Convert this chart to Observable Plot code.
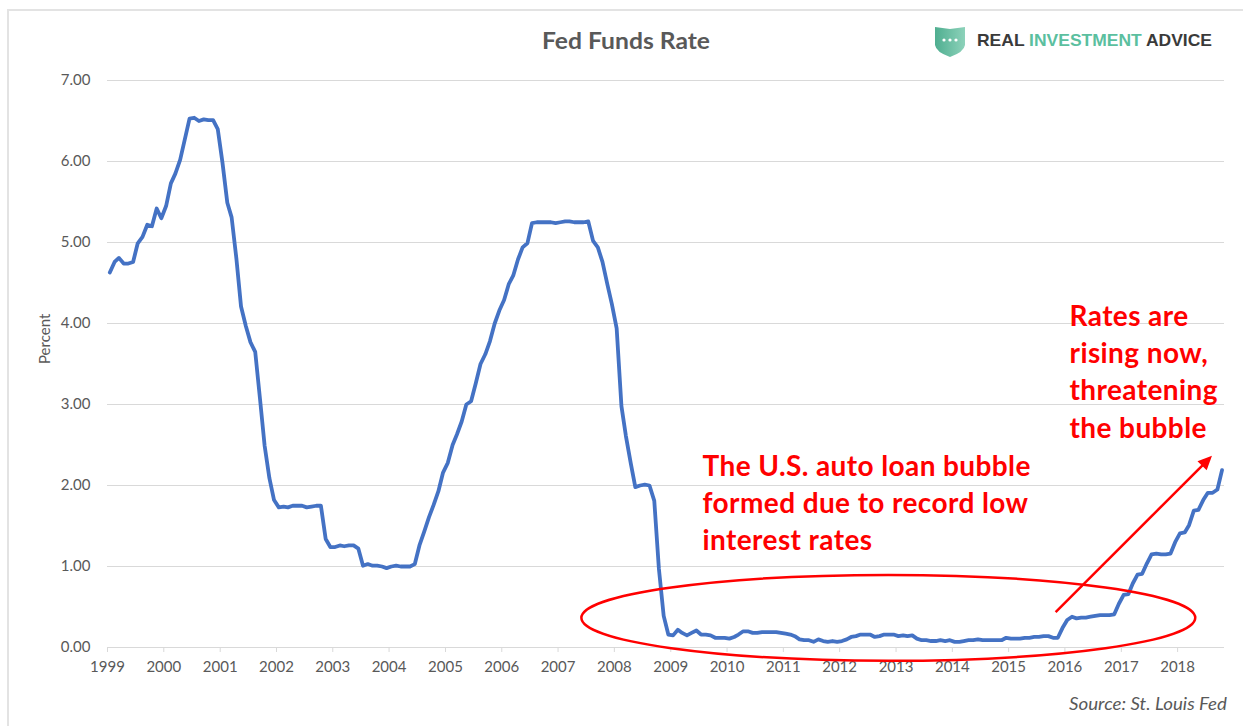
<!DOCTYPE html>
<html>
<head>
<meta charset="utf-8">
<script src="https://cdn.jsdelivr.net/npm/d3@7"></script>
<script src="https://cdn.jsdelivr.net/npm/@observablehq/plot@0.6"></script>
<style>
  html, body { margin: 0; padding: 0; background: #fff; }
  body { width: 1243px; height: 726px; overflow: hidden; position: relative; font-family: Lato, "Open Sans", sans-serif; }
  #frame { position: absolute; left: 7px; top: 9px; width: 1300px; height: 800px; border-left: 2px solid #e3e3e3; border-top: 2px solid #e3e3e3; box-sizing: border-box; }
  #chart { position: absolute; left: 0; top: 0; }
  #overlay { position: absolute; left: 0; top: 0; pointer-events: none; }
</style>
</head>
<body>
<div id="frame"></div>
<div id="chart"></div>
<svg id="overlay" width="1243" height="726"></svg>
<script>
// ---- Data: effective Fed Funds rate, monthly, Jan 1999 – Oct 2018 (percent) ----
const rates1999 = [4.63, 4.76, 4.81, 4.74, 4.74, 4.76, 4.99, 5.07, 5.22, 5.20, 5.42, 5.30];
const rates2000 = [5.45, 5.73, 5.85, 6.02, 6.27, 6.53, 6.54, 6.50, 6.52, 6.51, 6.51, 6.40];
const rates2001 = [5.98, 5.49, 5.31, 4.80, 4.21, 3.97, 3.77, 3.65, 3.07, 2.49, 2.09, 1.82];
const rates2002 = [1.73, 1.74, 1.73, 1.75, 1.75, 1.75, 1.73, 1.74, 1.75, 1.75, 1.34, 1.24];
const rates2003 = [1.24, 1.26, 1.25, 1.26, 1.26, 1.22, 1.01, 1.03, 1.01, 1.01, 1.00, 0.98];
const rates2004 = [1.00, 1.01, 1.00, 1.00, 1.00, 1.03, 1.26, 1.43, 1.61, 1.76, 1.93, 2.16];
const rates2005 = [2.28, 2.50, 2.63, 2.79, 3.00, 3.04, 3.26, 3.50, 3.62, 3.78, 4.00, 4.16];
const rates2006 = [4.29, 4.49, 4.59, 4.79, 4.94, 4.99, 5.24, 5.25, 5.25, 5.25, 5.25, 5.24];
const rates2007 = [5.25, 5.26, 5.26, 5.25, 5.25, 5.25, 5.26, 5.02, 4.94, 4.76, 4.49, 4.24];
const rates2008 = [3.94, 2.98, 2.61, 2.28, 1.98, 2.00, 2.01, 2.00, 1.81, 0.97, 0.39, 0.16];
const rates2009 = [0.15, 0.22, 0.18, 0.15, 0.18, 0.21, 0.16, 0.16, 0.15, 0.12, 0.12, 0.12];
const rates2010 = [0.11, 0.13, 0.16, 0.20, 0.20, 0.18, 0.18, 0.19, 0.19, 0.19, 0.19, 0.18];
const rates2011 = [0.17, 0.16, 0.14, 0.10, 0.09, 0.09, 0.07, 0.10, 0.08, 0.07, 0.08, 0.07];
const rates2012 = [0.08, 0.10, 0.13, 0.14, 0.16, 0.16, 0.16, 0.13, 0.14, 0.16, 0.16, 0.16];
const rates2013 = [0.14, 0.15, 0.14, 0.15, 0.11, 0.09, 0.09, 0.08, 0.08, 0.09, 0.08, 0.09];
const rates2014 = [0.07, 0.07, 0.08, 0.09, 0.09, 0.10, 0.09, 0.09, 0.09, 0.09, 0.09, 0.12];
const rates2015 = [0.11, 0.11, 0.11, 0.12, 0.12, 0.13, 0.13, 0.14, 0.14, 0.12, 0.12, 0.24];
const rates2016 = [0.34, 0.38, 0.36, 0.37, 0.37, 0.38, 0.39, 0.40, 0.40, 0.40, 0.41, 0.54];
const rates2017 = [0.65, 0.66, 0.79, 0.90, 0.91, 1.04, 1.15, 1.16, 1.15, 1.15, 1.16, 1.30];
const rates2018 = [1.41, 1.42, 1.51, 1.69, 1.70, 1.82, 1.91, 1.91, 1.95, 2.19];

const yTicks = [0, 1, 2, 3, 4, 5, 6, 7];
const xTickYears = [1999, 2000, 2001, 2002, 2003, 2004, 2005, 2006, 2007, 2008, 2009,
                    2010, 2011, 2012, 2013, 2014, 2015, 2016, 2017, 2018];

const titleText = "Fed Funds Rate";
const sourceText = "Source: St. Louis Fed";
const noteLeft = {date: new Date(Date.UTC(2009, 6, 26)), value: 1.20,
  text: "The U.S. auto loan bubble\nformed due to record low\ninterest rates"};
const noteRight = {date: new Date(Date.UTC(2016, 0, 31)), value: 2.59,
  text: "Rates are\nrising now,\nthreatening\nthe bubble"};
const ellipseNote = {date: new Date(Date.UTC(2012, 10, 15)), value: 0.36, rxYears: 5.45, ryValue: 0.53};
const arrowNote = {date1: new Date(Date.UTC(2015, 10, 5)), value1: 0.43,
                   date2: new Date(Date.UTC(2018, 7, 15)), value2: 2.36};

// ---- Build table (each month plotted at mid-month, as in the Excel date axis) ----
const allRates = [].concat(rates1999, rates2000, rates2001, rates2002, rates2003, rates2004,
  rates2005, rates2006, rates2007, rates2008, rates2009, rates2010, rates2011, rates2012,
  rates2013, rates2014, rates2015, rates2016, rates2017, rates2018);
const series = allRates.map((v, i) => ({date: new Date(Date.UTC(1999, i, 16)), rate: v}));
const xTicks = xTickYears.map(y => new Date(Date.UTC(y, 0, 1)));
const xDomain = [new Date(Date.UTC(1999, 0, 1)), new Date(Date.UTC(1999, allRates.length, 1))];

const red = "#ff0000";
const grey = "#595959";

const plot = Plot.plot({
  width: 1243,
  height: 726,
  marginLeft: 107,
  marginRight: 19,
  marginTop: 80,
  marginBottom: 79,
  style: {fontFamily: "Lato, 'Open Sans', sans-serif", background: "transparent", overflow: "visible"},
  x: {type: "utc", domain: xDomain},
  y: {domain: [0, 7]},
  marks: [
    Plot.gridY(yTicks.filter(d => d > 0), {stroke: "#d9d9d9", strokeOpacity: 1, strokeWidth: 1}),
    Plot.ruleY([0], {stroke: "#d9d9d9", strokeWidth: 1}),
    Plot.axisY(yTicks, {tickSize: 0, tickPadding: 17, tickFormat: d3.format(".2f"),
      fill: grey, fontSize: 15, label: null}),
    Plot.axisX(xTicks, {tickSize: 5, tickPadding: 9, tickFormat: d3.utcFormat("%Y"),
      stroke: "#d9d9d9", fill: grey, fontSize: 15, label: null}),
    Plot.text(["Percent"], {frameAnchor: "left", dx: -62, rotate: -90, fill: grey, fontSize: 15}),
    Plot.line(series, {x: "date", y: "rate", stroke: "#4472C4", strokeWidth: 3.8,
      strokeLinejoin: "round", strokeLinecap: "round"}),
    Plot.text([noteLeft], {x: "date", y: "value", text: "text", textAnchor: "start",
      lineAnchor: "bottom", lineHeight: 1.33, fontSize: 28, fontWeight: "bold", fill: red,
      className: "note"}),
    Plot.text([noteRight], {x: "date", y: "value", text: "text", textAnchor: "start",
      lineAnchor: "bottom", lineHeight: 1.33, fontSize: 28, fontWeight: "bold", fill: red,
      className: "note"})
  ]
});
document.getElementById("chart").appendChild(plot);
d3.select(plot).selectAll("g.note text").style("letter-spacing", "0.4px");

// ---- Annotation shapes via the plot's own scales ----
const sx = plot.scale("x"), sy = plot.scale("y");
const X = d => sx.apply(d), Y = v => sy.apply(v);
const svg = d3.select(plot);
const g = svg.append("g");

// ellipse
{
  const cx = X(ellipseNote.date), cy = Y(ellipseNote.value);
  const rxDate = new Date(ellipseNote.date.getTime() + ellipseNote.rxYears * 365.25 * 864e5);
  const rx = X(rxDate) - cx;
  const ry = Y(0) - Y(ellipseNote.ryValue);
  g.append("ellipse").attr("cx", cx).attr("cy", cy).attr("rx", rx).attr("ry", ry)
    .attr("fill", "none").attr("stroke", red).attr("stroke-width", 2.5);
}
// arrow
{
  const x1 = X(arrowNote.date1), y1 = Y(arrowNote.value1);
  const x2 = X(arrowNote.date2), y2 = Y(arrowNote.value2);
  const len = Math.hypot(x2 - x1, y2 - y1);
  const ux = (x2 - x1) / len, uy = (y2 - y1) / len;
  const nx = -uy, ny = ux;
  const hl = 14, hw = 6.5;
  const bx = x2 - ux * hl, by = y2 - uy * hl;
  g.append("line").attr("x1", x1).attr("y1", y1).attr("x2", bx + ux * 2).attr("y2", by + uy * 2)
    .attr("stroke", red).attr("stroke-width", 2.5);
  g.append("polygon")
    .attr("points", [[x2, y2], [bx + nx * hw, by + ny * hw], [bx - nx * hw, by - ny * hw]].map(p => p.join(",")).join(" "))
    .attr("fill", red);
}

// ---- Title, logo, source (overlay) ----
const ov = d3.select("#overlay");
ov.append("text").attr("x", 626).attr("y", 49).attr("text-anchor", "middle")
  .attr("font-family", "Lato, 'Open Sans', sans-serif").attr("font-weight", "bold")
  .attr("font-size", 23).attr("textLength", 168).attr("lengthAdjust", "spacingAndGlyphs")
  .attr("fill", grey).text(titleText);

const defs = ov.append("defs");
const grad = defs.append("linearGradient").attr("id", "shieldGrad").attr("x1", 0).attr("x2", 1).attr("y1", 0).attr("y2", 0);
grad.append("stop").attr("offset", "0%").attr("stop-color", "#4fae90");
grad.append("stop").attr("offset", "100%").attr("stop-color", "#8dd2ba");
ov.append("path")
  .attr("d", "M935,27 L950,29 L965,27 L965,45 Q964,52 950,57 Q936,52 935,45 Z")
  .attr("fill", "url(#shieldGrad)");
[944, 950, 956].forEach(cx => ov.append("circle").attr("cx", cx).attr("cy", 40).attr("r", 1.6).attr("fill", "#fff"));
const logo = ov.append("text").attr("x", 977).attr("y", 46)
  .attr("font-family", "'Liberation Sans', Arial, sans-serif").attr("font-weight", "bold")
  .attr("font-size", 17).attr("textLength", 235).attr("lengthAdjust", "spacingAndGlyphs");
logo.append("tspan").attr("fill", "#3a3a3a").text("REAL ");
logo.append("tspan").attr("fill", "#5bbf9f").text("INVESTMENT");
logo.append("tspan").attr("fill", "#3a3a3a").text(" ADVICE");

ov.append("text").attr("x", 1227).attr("y", 710).attr("text-anchor", "end")
  .attr("font-family", "Lato, 'Open Sans', sans-serif").attr("font-style", "italic")
  .attr("font-size", 17).attr("textLength", 158).attr("lengthAdjust", "spacingAndGlyphs")
  .attr("fill", grey).text(sourceText);
</script>
</body>
</html>
